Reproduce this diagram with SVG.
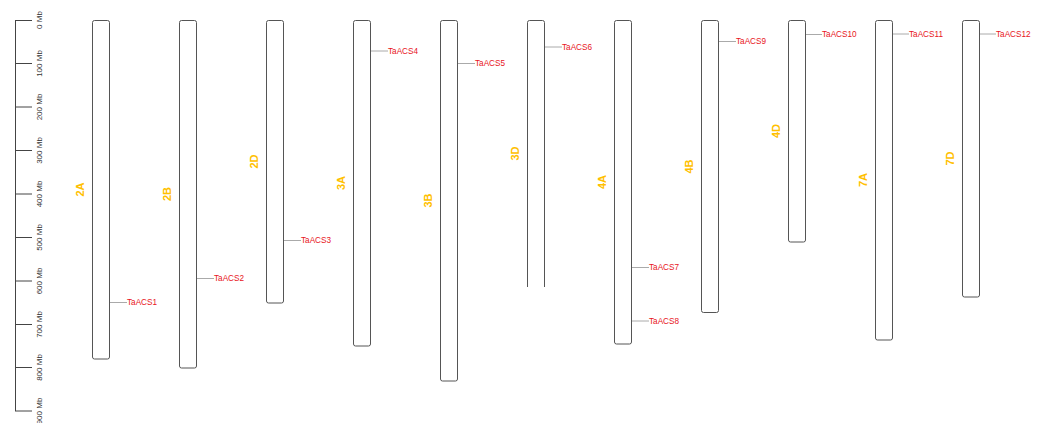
<svg xmlns="http://www.w3.org/2000/svg" width="1048" height="423" viewBox="0 0 1048 423">
<style>
.chr{fill:#fff;stroke:#555;stroke-width:1}
.tick{stroke:#444;stroke-width:1}
.sl{font-family:"Liberation Sans",Arial,sans-serif;font-size:8px;fill:#333;text-anchor:middle;dominant-baseline:central}
.cl{font-family:"Liberation Sans",Arial,sans-serif;font-size:11px;font-weight:bold;fill:#FFC000;text-anchor:middle;dominant-baseline:central}
.ml{stroke:#aaa;stroke-width:1}
.gl{font-family:"Liberation Sans",Arial,sans-serif;font-size:8.2px;fill:#e8141b;dominant-baseline:central}
</style>
<g id="scale">
<line class="tick" x1="15.5" y1="20" x2="15.5" y2="411"/>
<line class="tick" x1="15" y1="20.5" x2="32" y2="20.5"/>
<line class="tick" x1="15" y1="63.5" x2="32" y2="63.5"/>
<line class="tick" x1="15" y1="107" x2="32" y2="107"/>
<line class="tick" x1="15" y1="150.5" x2="32" y2="150.5"/>
<line class="tick" x1="15" y1="194" x2="32" y2="194"/>
<line class="tick" x1="15" y1="237.5" x2="32" y2="237.5"/>
<line class="tick" x1="15" y1="281" x2="32" y2="281"/>
<line class="tick" x1="15" y1="324.5" x2="32" y2="324.5"/>
<line class="tick" x1="15" y1="367.5" x2="32" y2="367.5"/>
<line class="tick" x1="15" y1="411" x2="32" y2="411"/>
<text class="sl" transform="translate(39,20) rotate(-90)">0 Mb</text>
<text class="sl" transform="translate(39,63.5) rotate(-90)">100 Mb</text>
<text class="sl" transform="translate(39,107) rotate(-90)">200 Mb</text>
<text class="sl" transform="translate(39,150.5) rotate(-90)">300 Mb</text>
<text class="sl" transform="translate(39,194) rotate(-90)">400 Mb</text>
<text class="sl" transform="translate(39,237.5) rotate(-90)">500 Mb</text>
<text class="sl" transform="translate(39,281) rotate(-90)">600 Mb</text>
<text class="sl" transform="translate(39,324.5) rotate(-90)">700 Mb</text>
<text class="sl" transform="translate(39,367.5) rotate(-90)">800 Mb</text>
<text class="sl" transform="translate(39,411) rotate(-90)">900 Mb</text>
</g>
<g id="chr2A"><rect class="chr" x="92.5" y="20.5" width="17" height="338.5" rx="2"/><text class="cl" transform="translate(80,189.5) rotate(-90)">2A</text></g>
<g id="chr2B"><rect class="chr" x="179.5" y="20.5" width="17" height="347.5" rx="2"/><text class="cl" transform="translate(167,194) rotate(-90)">2B</text></g>
<g id="chr2D"><rect class="chr" x="266.5" y="20.5" width="17" height="282.5" rx="2"/><text class="cl" transform="translate(254,161.5) rotate(-90)">2D</text></g>
<g id="chr3A"><rect class="chr" x="353.5" y="20.5" width="17" height="325.5" rx="2"/><text class="cl" transform="translate(341,183) rotate(-90)">3A</text></g>
<g id="chr3B"><rect class="chr" x="440.5" y="20.5" width="17" height="360.5" rx="2"/><text class="cl" transform="translate(428,200.5) rotate(-90)">3B</text></g>
<g id="chr3D"><path class="chr" d="M527.5,287 V22.5 Q527.5,20.5 529.5,20.5 H542.5 Q544.5,20.5 544.5,22.5 V287"/><text class="cl" transform="translate(515,153.5) rotate(-90)">3D</text></g>
<g id="chr4A"><rect class="chr" x="614.5" y="20.5" width="17" height="323.5" rx="2"/><text class="cl" transform="translate(602,182) rotate(-90)">4A</text></g>
<g id="chr4B"><rect class="chr" x="701.5" y="20.5" width="17" height="292" rx="2"/><text class="cl" transform="translate(689,166.5) rotate(-90)">4B</text></g>
<g id="chr4D"><rect class="chr" x="788.5" y="20.5" width="17" height="221.5" rx="2"/><text class="cl" transform="translate(776,131) rotate(-90)">4D</text></g>
<g id="chr7A"><rect class="chr" x="875.5" y="20.5" width="17" height="319.5" rx="2"/><text class="cl" transform="translate(863,180) rotate(-90)">7A</text></g>
<g id="chr7D"><rect class="chr" x="962.5" y="20.5" width="17" height="276.5" rx="2"/><text class="cl" transform="translate(950,158.5) rotate(-90)">7D</text></g>
<g id="connectors">
<line class="ml" x1="110" y1="302.5" x2="127" y2="302.5"/>
<line class="ml" x1="197" y1="278.5" x2="214" y2="278.5"/>
<line class="ml" x1="284" y1="240.5" x2="301" y2="240.5"/>
<line class="ml" x1="371" y1="51" x2="388" y2="51"/>
<line class="ml" x1="458" y1="63.5" x2="475" y2="63.5"/>
<line class="ml" x1="545" y1="47" x2="562" y2="47"/>
<line class="ml" x1="632" y1="267.5" x2="649" y2="267.5"/>
<line class="ml" x1="632" y1="321" x2="649" y2="321"/>
<line class="ml" x1="719" y1="41.5" x2="736" y2="41.5"/>
<line class="ml" x1="806" y1="34.5" x2="822" y2="34.5"/>
<line class="ml" x1="893" y1="34" x2="909" y2="34"/>
<line class="ml" x1="980" y1="34" x2="996" y2="34"/>
</g>
<g id="genes">
<text class="gl" x="127" y="302.5">TaACS1</text>
<text class="gl" x="214" y="278.5">TaACS2</text>
<text class="gl" x="301" y="240.5">TaACS3</text>
<text class="gl" x="388" y="51">TaACS4</text>
<text class="gl" x="475" y="63.5">TaACS5</text>
<text class="gl" x="562" y="47">TaACS6</text>
<text class="gl" x="649" y="267.5">TaACS7</text>
<text class="gl" x="649" y="321">TaACS8</text>
<text class="gl" x="736" y="41.5">TaACS9</text>
<text class="gl" x="822" y="34.5">TaACS10</text>
<text class="gl" x="909" y="34">TaACS11</text>
<text class="gl" x="996" y="34">TaACS12</text>
</g>
</svg>
